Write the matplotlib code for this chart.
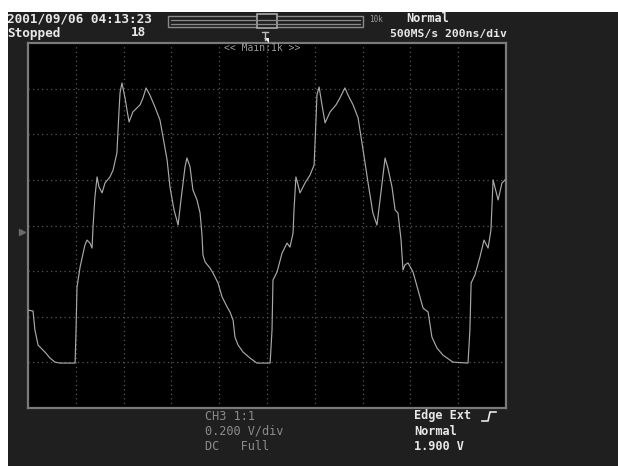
import matplotlib
matplotlib.use("Agg")
import matplotlib.pyplot as plt
from matplotlib.patches import Rectangle, Polygon
from matplotlib.transforms import Affine2D, blended_transform_factory
from matplotlib.lines import Line2D

# ---------------- data ----------------
time_ns = [0, 21, 29, 42, 71, 92, 113, 134, 197, 201, 205, 218, 238, 247, 259, 268, 272, 280, 289, 297,
           310, 322, 343, 356, 372, 381, 385, 393, 406, 414, 423, 439, 469, 481, 494, 510, 531, 552, 565,
           582, 594, 611, 628, 640, 657, 665, 678, 690, 707, 720, 728, 732, 741, 761, 774, 795, 812, 833,
           845, 858, 866, 879, 900, 929, 958, 1013, 1021, 1025, 1042, 1063, 1084, 1096, 1109, 1113, 1121,
           1130, 1138, 1159, 1180, 1197, 1205, 1209, 1218, 1230, 1243, 1264, 1289, 1305, 1326, 1339, 1360,
           1381, 1402, 1423, 1443, 1460, 1473, 1494, 1506, 1523, 1536, 1548, 1561, 1569, 1577, 1590, 1611,
           1632, 1653, 1674, 1690, 1711, 1736, 1778, 1841, 1849, 1854, 1870, 1891, 1908, 1925, 1937, 1946,
           1967, 1983, 1996]
volts = [-0.371, -0.375, -0.458, -0.524, -0.555, -0.581, -0.599, -0.603, -0.603, -0.458, -0.270, -0.182,
         -0.086, -0.064, -0.077, -0.099, -0.007, 0.125, 0.213, 0.169, 0.143, 0.186, 0.213, 0.243, 0.318,
         0.507, 0.581, 0.625, 0.559, 0.507, 0.454, 0.498, 0.529, 0.559, 0.603, 0.572, 0.520, 0.463, 0.388,
         0.287, 0.169, 0.068, 0.002, 0.112, 0.257, 0.296, 0.257, 0.156, 0.112, 0.055, -0.042, -0.129,
         -0.160, -0.186, -0.208, -0.252, -0.313, -0.357, -0.379, -0.414, -0.489, -0.524, -0.555, -0.581,
         -0.603, -0.603, -0.458, -0.239, -0.204, -0.121, -0.077, -0.095, -0.033, 0.068, 0.213, 0.178,
         0.143, 0.186, 0.221, 0.265, 0.463, 0.572, 0.607, 0.529, 0.450, 0.498, 0.529, 0.559, 0.603,
         0.572, 0.529, 0.472, 0.331, 0.186, 0.055, 0.002, 0.112, 0.296, 0.252, 0.169, 0.068, 0.055,
         -0.064, -0.195, -0.173, -0.164, -0.204, -0.283, -0.362, -0.379, -0.489, -0.537, -0.568, -0.599,
         -0.603, -0.458, -0.252, -0.217, -0.138, -0.064, -0.099, -0.020, 0.200, 0.112, 0.186, 0.200]
ground_v = -0.03

time_per_div = 200      # ns/div
volts_per_div = 0.2     # V/div
n_xdiv, n_ydiv = 10, 8

header_left = ["2001/09/06 04:13:23", "Stopped"]
acq_count = "18"
header_right = ["Normal", "500MS/s 200ns/div"]
zoom_label = "<< Main:1k >>"
ch_info = ["CH3 1:1", "0.200 V/div", "DC   Full"]
trig_info = ["Edge Ext", "Normal", "1.900 V"]

# ---------------- figure ----------------
W, H = 618, 467
fig = plt.figure(figsize=(W / 100, H / 100), dpi=100)
fig.patch.set_facecolor("white")
px = Affine2D().scale(1 / W, -1 / H).translate(0, 1) + fig.transFigure

BG = "#1f1f1f"
fig.add_artist(Rectangle((8, 12), W - 8, 454, transform=px, facecolor=BG, edgecolor="none", zorder=0))

ax = fig.add_axes([28 / W, (H - 408) / H, 478 / W, 365 / H])
ax.set_facecolor("black")
ax.set_xlim(0, n_xdiv * time_per_div)
ax.set_ylim(-n_ydiv / 2 * volts_per_div, n_ydiv / 2 * volts_per_div)
ax.set_xticks([])
ax.set_yticks([])
for s in ax.spines.values():
    s.set_color("#7a7a7a")
    s.set_linewidth(1.6)

gcol = "#555555"
for i in range(1, n_xdiv):
    ax.axvline(i * time_per_div, color=gcol, lw=0.9, ls=(0, (1, 2.6)), zorder=1)
for j in range(1, n_ydiv):
    ax.axhline(-n_ydiv / 2 * volts_per_div + j * volts_per_div, color=gcol, lw=0.9, ls=(0, (1, 2.6)), zorder=1)

ax.plot(time_ns, volts, color="#a9a9a9", lw=0.85, zorder=3)

# ground marker
bt = blended_transform_factory(ax.transAxes, ax.transData)
ax.plot([-0.013], [ground_v], marker=">", ms=5, color="#6a6a6a", transform=bt, clip_on=False)

# ---------------- texts ----------------
mono = "DejaVu Sans Mono"
def t(x, y, s, size=9.2, color="#e8e8e8", weight="bold", ha="left"):
    fig.text(x / W, 1 - y / H, s, fontsize=size, color=color, family=mono,
             weight=weight, ha=ha, va="center")

t(7, 19, header_left[0])
t(7, 33, header_left[1])
t(131, 33, acq_count)
t(406, 19, header_right[0], size=8.6)
t(507, 34, header_right[1], size=8.2, ha="right")
t(262, 48, zoom_label, size=7, color="#9a9a9a", weight="normal", ha="center")
t(369, 20, "10k", size=5.5, color="#9a9a9a", weight="normal")

for k, s in enumerate(ch_info):
    t(205, 416 + k * 15.5, s, size=8.6, color="#8c8c8c", weight="normal")
for k, s in enumerate(trig_info):
    t(414, 416 + k * 15.5, s, size=8.6)

# trigger edge glyph
fig.add_artist(Line2D([482, 488, 490, 496], [421, 421, 412, 412], transform=px, color="#e8e8e8", lw=1.2))

# ---------------- record-length slider ----------------
sc = "#8a8a8a"
fig.add_artist(Rectangle((168, 16), 195, 11, transform=px, facecolor="none", edgecolor=sc, lw=1.0))
for yy in (19.5, 23.5):
    fig.add_artist(Line2D([171, 360], [yy, yy], transform=px, color=sc, lw=0.9))
fig.add_artist(Rectangle((257, 14), 20, 14, transform=px, facecolor=BG, edgecolor="#a8a8a8", lw=1.2))
fig.add_artist(Line2D([262, 268], [32, 32], transform=px, color="#bdbdbd", lw=1.0))
fig.add_artist(Line2D([265, 265], [32, 40], transform=px, color="#bdbdbd", lw=1.0))
fig.add_artist(Polygon([[264, 38], [269, 38], [269, 43]], closed=True, transform=px,
                       facecolor="#f0f0f0", edgecolor="none"))

fig.savefig("out.png", dpi=100, facecolor=fig.get_facecolor())
